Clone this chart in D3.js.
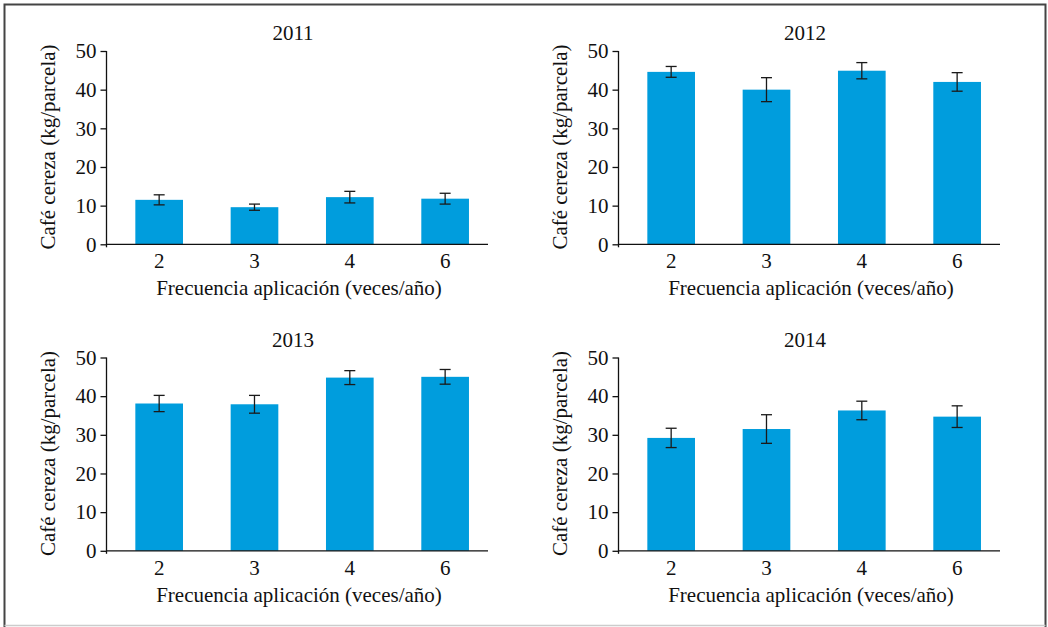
<!DOCTYPE html>
<html>
<head>
<meta charset="utf-8">
<script src="https://cdn.jsdelivr.net/npm/d3@7"></script>
<style>
  body { margin: 0; background: #fff; }
  text { font-family: "Liberation Serif", "Times New Roman", serif; fill: #111; }
</style>
</head>
<body>
<script>
const width = 1048;
const height = 627;
const fontSize = 21;

const categories = ['2', '3', '4', '6'];
const years = ['2011', '2012', '2013', '2014'];
const yTicks = [0, 10, 20, 30, 40, 50];

// means and error bar half-widths
const means2011 = [11.5, 9.6, 12.2, 11.8];
const errs2011 = [1.3, 0.8, 1.5, 1.4];
const means2012 = [44.6, 40.0, 44.9, 42.0];
const errs2012 = [1.4, 3.1, 2.1, 2.4];
const means2013 = [38.1, 37.9, 44.8, 45.0];
const errs2013 = [2.1, 2.3, 1.8, 1.9];
const means2014 = [29.2, 31.5, 36.3, 34.7];
const errs2014 = [2.5, 3.7, 2.4, 2.8];

const panels = [
  { year: years[0], means: means2011, errs: errs2011, ox: 0, oy: 0 },
  { year: years[1], means: means2012, errs: errs2012, ox: 512, oy: 0 },
  { year: years[2], means: means2013, errs: errs2013, ox: 0, oy: 306.5 },
  { year: years[3], means: means2014, errs: errs2014, ox: 512, oy: 306.5 },
];

const svg = d3.select('body')
  .append('svg')
    .attr('width', width)
    .attr('height', height);

// outer frame
svg.append('path')
  .attr('d', 'M4.5,627 V4.5 H1045.5 V627')
  .attr('fill', 'none')
  .attr('stroke', '#444')
  .attr('stroke-width', 2);
svg.append('line')
  .attr('x1', 4.5).attr('x2', 1045.5)
  .attr('y1', 625.5).attr('y2', 625.5)
  .attr('stroke', '#ccc')
  .attr('stroke-width', 1.5);

const axisX0 = 106.5;
const axisX1 = 488;

const x = d3.scaleBand()
  .domain(categories)
  .range([111.5, 492.8])
  .paddingInner(0.5)
  .paddingOuter(0.25);

const y = d3.scaleLinear()
  .domain([0, 50])
  .range([244.3, 51]);

const build = (p) => {
  const g = svg.append('g')
    .attr('transform', `translate(${p.ox},${p.oy})`);

  const rows = categories.map((c, i) => ({ cat: c, mean: p.means[i], err: p.errs[i] }));

  g.selectAll('.bar')
    .data(rows)
    .enter()
      .append('rect')
      .attr('class', 'bar')
      .attr('x', d => x(d.cat))
      .attr('width', x.bandwidth())
      .attr('y', d => y(d.mean))
      .attr('height', d => y(0) - y(d.mean))
      .attr('fill', '#009ddd');

  const eb = g.selectAll('.err')
    .data(rows)
    .enter()
      .append('g')
      .attr('class', 'err')
      .attr('stroke', '#1a1a1a')
      .attr('stroke-width', 1.3);

  const cx = d => x(d.cat) + x.bandwidth() / 2;
  eb.append('line')
    .attr('x1', cx).attr('x2', cx)
    .attr('y1', d => y(d.mean + d.err))
    .attr('y2', d => y(d.mean - d.err));
  [1, -1].forEach(s => {
    eb.append('line')
      .attr('x1', d => cx(d) - 5.5).attr('x2', d => cx(d) + 5.5)
      .attr('y1', d => y(d.mean + s * d.err))
      .attr('y2', d => y(d.mean + s * d.err));
  });

  // y axis
  const yAxis = d3.axisLeft(y)
    .tickValues(yTicks)
    .tickSizeInner(6)
    .tickSizeOuter(0)
    .tickPadding(4);

  const ya = g.append('g')
    .attr('transform', `translate(${axisX0},0)`)
    .call(yAxis);
  ya.select('.domain').remove();
  ya.append('line')
    .attr('y1', y(50)).attr('y2', y(0) + 3)
    .attr('stroke', '#111').attr('stroke-width', 1.3);
  ya.selectAll('.tick line').attr('stroke', '#111').attr('stroke-width', 1.3);
  ya.selectAll('.tick text')
    .attr('font-size', fontSize)
    .attr('font-family', '"Liberation Serif", serif')
    .attr('fill', '#111');

  // x axis (baseline without ticks)
  g.append('line')
    .attr('x1', axisX0).attr('x2', axisX1)
    .attr('y1', y(0)).attr('y2', y(0))
    .attr('stroke', '#111').attr('stroke-width', 1.3);

  g.selectAll('.xlab')
    .data(categories)
    .enter()
      .append('text')
      .attr('x', d => x(d) + x.bandwidth() / 2)
      .attr('y', 268)
      .attr('text-anchor', 'middle')
      .attr('font-size', fontSize)
      .text(d => d);

  g.append('text')
    .attr('x', 299)
    .attr('y', 295)
    .attr('text-anchor', 'middle')
    .attr('font-size', fontSize)
    .text('Frecuencia aplicación (veces/año)');

  g.append('text')
    .attr('transform', 'translate(55,147) rotate(-90)')
    .attr('text-anchor', 'middle')
    .attr('font-size', fontSize)
    .text('Café cereza (kg/parcela)');

  g.append('text')
    .attr('x', 293)
    .attr('y', 40)
    .attr('text-anchor', 'middle')
    .attr('font-size', fontSize)
    .text(p.year);
};

panels.forEach(build);
</script>
</body>
</html>
